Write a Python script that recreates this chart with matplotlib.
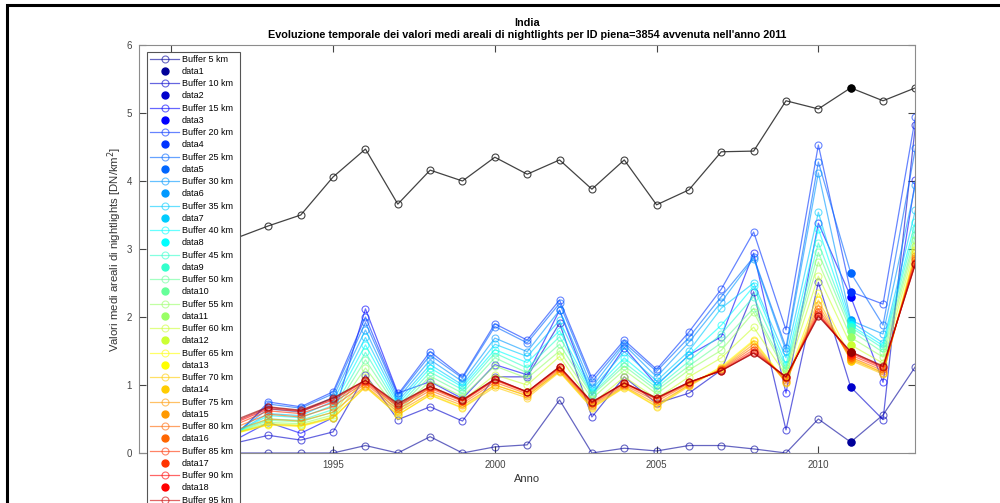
import matplotlib.pyplot as plt
from matplotlib.patches import Rectangle

plt.rcParams['font.family'] = ['Liberation Sans', 'DejaVu Sans']

# Data
years = list(range(1992, 2014))
flood_year = 2011
buffers_km = [5, 10, 15, 20, 25, 30, 35, 40, 45, 50,
              55, 60, 65, 70, 75, 80, 85, 90, 95, 100]

b005 = [0, 0, 0, 0, 0.11, 0, 0.24, 0, 0.09, 0.12, 0.78, 0, 0.07, 0.03, 0.11, 0.11, 0.06, 0, 0.50, 0.16, 0.56, 1.27]
b010 = [0.15, 0.26, 0.19, 0.31, 1.15, 0.49, 0.68, 0.47, 1.12, 1.12, 1.91, 0.53, 1.12, 0.73, 0.88, 1.22, 2.37, 0.34, 2.51, 0.97, 0.49, 4.82]
b015 = [0.20, 0.45, 0.29, 0.52, 2.12, 0.88, 1.05, 0.80, 1.30, 1.15, 2.10, 0.85, 1.55, 1.00, 1.44, 1.71, 2.94, 0.88, 3.38, 2.30, 1.04, 4.01]
b020 = [0.25, 0.75, 0.68, 0.90, 2.00, 0.86, 1.49, 1.12, 1.90, 1.66, 2.25, 1.10, 1.66, 1.23, 1.78, 2.41, 3.25, 1.81, 4.53, 2.37, 2.19, 4.94]
b025 = [0.28, 0.72, 0.66, 0.87, 1.92, 0.84, 1.44, 1.10, 1.86, 1.62, 2.20, 1.05, 1.62, 1.20, 1.70, 2.30, 2.88, 1.55, 4.28, 2.65, 1.88, 4.48]
b030 = [0.30, 0.65, 0.60, 0.82, 1.81, 0.80, 1.37, 1.05, 1.69, 1.49, 2.10, 0.97, 1.59, 1.12, 1.63, 2.22, 2.86, 1.50, 4.12, 1.95, 1.75, 3.94]
b035 = [0.30, 0.58, 0.55, 0.76, 1.70, 0.76, 1.30, 1.00, 1.60, 1.42, 1.95, 0.93, 1.49, 1.06, 1.50, 2.13, 2.50, 1.40, 3.54, 1.93, 1.62, 3.57]
b040 = [0.30, 0.55, 0.52, 0.70, 1.59, 0.72, 1.25, 0.97, 1.52, 1.33, 1.80, 0.90, 1.40, 1.00, 1.44, 1.88, 2.45, 1.30, 3.30, 1.88, 1.58, 3.40]
b045 = [0.31, 0.50, 0.48, 0.64, 1.48, 0.68, 1.19, 0.93, 1.47, 1.25, 1.71, 0.87, 1.33, 0.96, 1.35, 1.75, 2.30, 1.25, 3.09, 1.85, 1.54, 3.30]
b050 = [0.30, 0.48, 0.46, 0.60, 1.37, 0.65, 1.13, 0.88, 1.40, 1.18, 1.60, 0.85, 1.28, 0.92, 1.28, 1.62, 2.13, 1.22, 2.95, 1.80, 1.48, 3.20]
b055 = [0.30, 0.45, 0.43, 0.56, 1.25, 0.62, 1.06, 0.83, 1.28, 1.10, 1.50, 0.80, 1.22, 0.87, 1.22, 1.51, 2.07, 1.18, 2.81, 1.70, 1.41, 3.13]
b060 = [0.29, 0.43, 0.41, 0.53, 1.12, 0.59, 0.98, 0.77, 1.15, 1.00, 1.42, 0.72, 1.12, 0.80, 1.12, 1.40, 1.85, 1.14, 2.60, 1.59, 1.32, 3.05]
b065 = [0.29, 0.41, 0.39, 0.51, 0.98, 0.56, 0.86, 0.67, 1.00, 0.85, 1.20, 0.67, 0.97, 0.69, 1.00, 1.27, 1.66, 1.05, 2.35, 1.40, 1.18, 2.98]
b070 = [0.30, 0.42, 0.40, 0.52, 0.97, 0.56, 0.85, 0.66, 0.97, 0.81, 1.19, 0.66, 0.96, 0.68, 0.98, 1.25, 1.64, 1.03, 2.25, 1.36, 1.16, 2.94]
b075 = [0.34, 0.50, 0.47, 0.60, 0.99, 0.60, 0.88, 0.70, 1.00, 0.84, 1.21, 0.69, 0.98, 0.72, 1.00, 1.24, 1.60, 1.04, 2.18, 1.38, 1.18, 2.90]
b080 = [0.38, 0.57, 0.53, 0.68, 1.02, 0.64, 0.92, 0.73, 1.04, 0.87, 1.23, 0.71, 1.00, 0.76, 1.02, 1.23, 1.56, 1.07, 2.12, 1.41, 1.21, 2.87]
b085 = [0.42, 0.62, 0.58, 0.74, 1.04, 0.68, 0.95, 0.76, 1.07, 0.89, 1.25, 0.73, 1.02, 0.79, 1.03, 1.22, 1.52, 1.10, 2.07, 1.44, 1.24, 2.84]
b090 = [0.45, 0.65, 0.61, 0.78, 1.06, 0.70, 0.97, 0.77, 1.08, 0.90, 1.26, 0.74, 1.03, 0.80, 1.04, 1.21, 1.49, 1.12, 2.04, 1.47, 1.26, 2.80]
b095 = [0.47, 0.67, 0.62, 0.80, 1.07, 0.72, 0.98, 0.78, 1.09, 0.90, 1.27, 0.75, 1.03, 0.81, 1.04, 1.21, 1.47, 1.12, 2.02, 1.49, 1.27, 2.78]
b100 = [0.49, 0.68, 0.63, 0.81, 1.07, 0.73, 0.98, 0.78, 1.09, 0.90, 1.27, 0.75, 1.03, 0.81, 1.04, 1.21, 1.47, 1.12, 2.01, 1.49, 1.28, 2.78]

# whole flood area (black line)
area_piena = [3.16, 3.34, 3.50, 4.06, 4.47, 3.66, 4.16, 4.00, 4.35, 4.10, 4.31,
              3.88, 4.31, 3.65, 3.87, 4.43, 4.44, 5.18, 5.06, 5.37, 5.18, 5.37]

series = [b005, b010, b015, b020, b025, b030, b035, b040, b045, b050,
          b055, b060, b065, b070, b075, b080, b085, b090, b095, b100]

# MATLAB jet(20)
jet20 = [(0, 0, 0.6), (0, 0, 0.8), (0, 0, 1), (0, 0.2, 1), (0, 0.4, 1),
         (0, 0.6, 1), (0, 0.8, 1), (0, 1, 1), (0.2, 1, 0.8), (0.4, 1, 0.6),
         (0.6, 1, 0.4), (0.8, 1, 0.2), (1, 1, 0), (1, 0.8, 0), (1, 0.6, 0),
         (1, 0.4, 0), (1, 0.2, 0), (1, 0, 0), (0.8, 0, 0), (0.6, 0, 0)]

fig = plt.figure(figsize=(10, 5.03), dpi=100)
ax = fig.add_axes([0.139, 0.0994, 0.7764, 0.8111])

i_flood = years.index(flood_year)
for k, (km, vals, col) in enumerate(zip(buffers_km, series, jet20)):
    ax.plot(years, vals, '-o', color=col, alpha=0.6, lw=0.9, ms=5,
            mfc='none', mew=0.8, label=f'Buffer {km} km')
    ax.plot(flood_year, vals[i_flood], 'o', color=col, ms=5,
            label=f'data{k + 1}')

ax.plot(years, area_piena, '-o', color='#222222', alpha=0.85, lw=0.9, ms=5,
        mfc='none', mew=0.8, label='Area piena')
ax.plot(flood_year, area_piena[i_flood], 'o', color='black', ms=5,
        label=f'data{len(series) + 1}')

ax.set_xlim(1989, 2013)
ax.set_ylim(0, 6)
ax.set_xticks([1990, 1995, 2000, 2005, 2010])
ax.set_yticks(range(0, 7))
ax.tick_params(direction='in', length=5, width=0.8, colors='#444444',
               labelsize=7, top=True, right=True, pad=5)
for sp in ax.spines.values():
    sp.set_color('#8c8c8c')
    sp.set_linewidth(0.8)

ax.set_xlabel('Anno', fontsize=8, color='#333333', labelpad=3)
ax.set_ylabel('Valori medi areali di nightlights [DN/km$^2$]', fontsize=8.2,
              color='#333333', labelpad=2)
ax.set_title('India\nEvoluzione temporale dei valori medi areali di nightlights '
             "per ID piena=3854 avvenuta nell'anno 2011",
             fontsize=7.8, fontweight='bold', pad=5, linespacing=1.3)

leg = ax.legend(loc='upper left', bbox_to_anchor=(0.0103, 0.983),
                borderaxespad=0, fontsize=6.5, frameon=True, fancybox=False,
                framealpha=1, edgecolor='#555555', handlelength=3.3,
                handletextpad=0.25, labelspacing=0.36, borderpad=0.3,
                numpoints=1)
leg.get_frame().set_linewidth(0.8)

# screenshot frame
fig.add_artist(Rectangle((0.007, -0.2), 1.2, 1.19, transform=fig.transFigure,
                         fill=False, lw=2.2, edgecolor='black'))

fig.savefig('out.png', dpi=100, facecolor='white')
